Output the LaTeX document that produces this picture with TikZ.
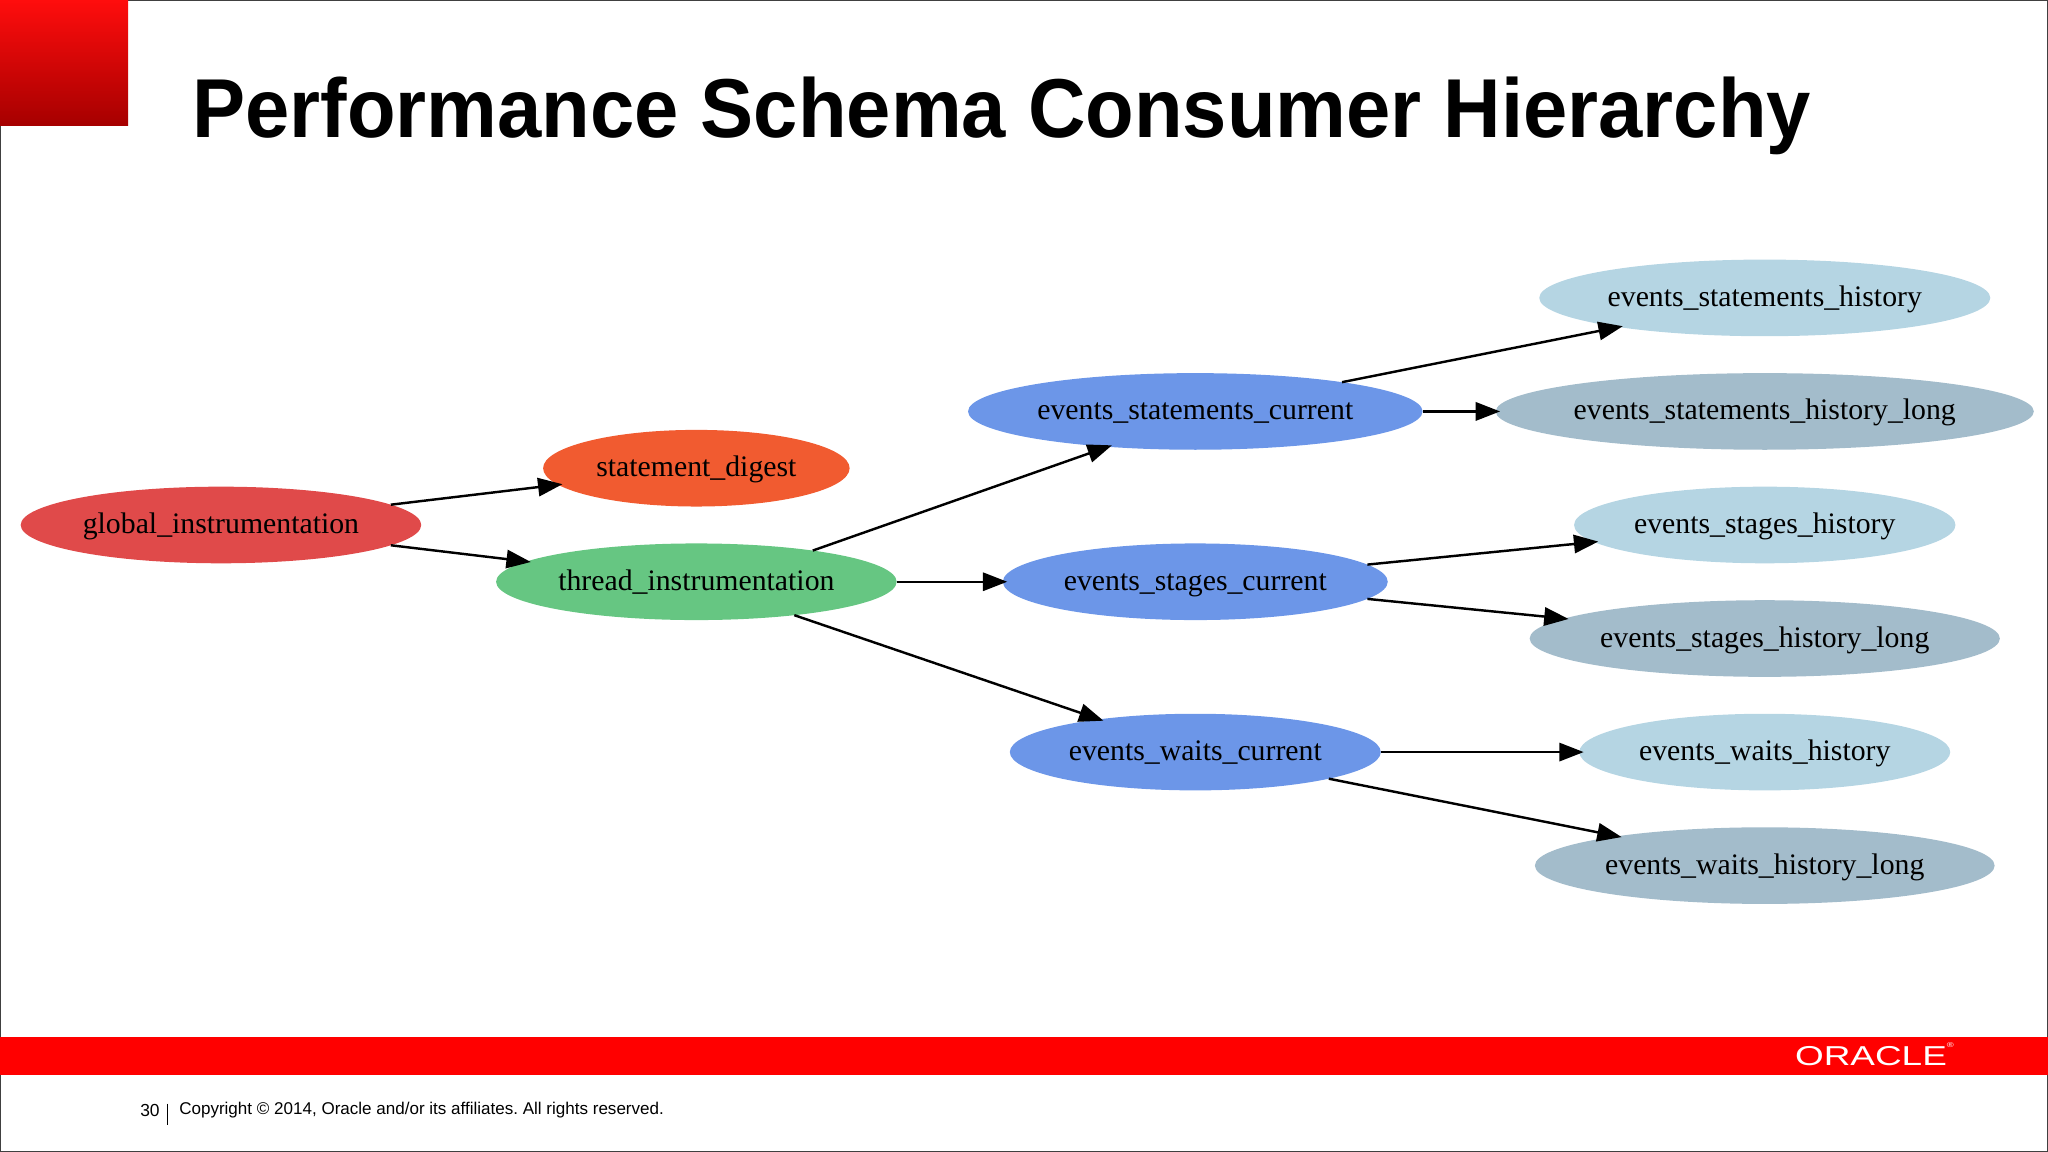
\documentclass[tikz,border=0pt]{standalone}
\usepackage{fontspec}
\setmainfont{Liberation Serif}
\setsansfont{Liberation Sans}
\usetikzlibrary{arrows.meta,shapes.geometric}
\definecolor{oracleRed}{HTML}{FF0000}
\definecolor{globalFill}{HTML}{E04A4A}
\definecolor{digestFill}{HTML}{F15B30}
\definecolor{threadFill}{HTML}{66C682}
\definecolor{currentFill}{HTML}{6C96E8}
\definecolor{historyFill}{HTML}{B5D5E3}
\definecolor{longFill}{HTML}{A3BCCB}
\tikzset{
  consumer/.style={ellipse, anchor=center, inner xsep=-2pt, inner ysep=0pt, outer sep=0pt,
    minimum height=44pt, text height=13.3pt, text depth=3.5pt, font=\fontsize{17.1pt}{20pt}\selectfont},
  flow/.style={->, line width=1.4pt, black, shorten >=-2.5pt},
}
\begin{document}
\begin{tikzpicture}[x=0.75pt, y=-0.75pt, >={Triangle[length=14pt,width=10.5pt]}]
      \useasboundingbox (0,0) rectangle (1568,882);
      \draw[black!75, line width=0.75pt] (0.5,0.5) rectangle (1567.5,881.5);
      \shade[top color=red!95!white, bottom color=red!65!black] (0,0) rectangle (98,96);
      \node[anchor=base west, inner sep=0pt, transform shape, xscale=0.952,
        font=\sffamily\bfseries\fontsize{48pt}{54pt}\selectfont] (title)
        at (147,105.5) {Performance Schema Consumer Hierarchy};
      \matrix (graph) [anchor=center, inner sep=0pt, row sep={32.6pt,between origins}] at (786.5,445.4)
      {
        &[273pt,between origins] &[286.5pt,between origins] &[327pt,between origins]
          \node[consumer, fill=historyFill, minimum width=259pt] (stmthist) {events\_statements\_history}; \\
        \\
        && \node[consumer, fill=currentFill, minimum width=261pt] (stmtcur) {events\_statements\_current}; &
          \node[consumer, fill=longFill, minimum width=309pt] (stmtlong) {events\_statements\_history\_long}; \\
        & \node[consumer, fill=digestFill, minimum width=176pt] (digest) {statement\_digest}; \\
        \node[consumer, fill=globalFill, minimum width=230pt] (global) {global\_instrumentation}; &&&
          \node[consumer, fill=historyFill, minimum width=219pt] (stagehist) {events\_stages\_history}; \\
        & \node[consumer, fill=threadFill, minimum width=230pt] (thread) {thread\_instrumentation}; &
          \node[consumer, fill=currentFill, minimum width=221pt] (stagecur) {events\_stages\_current}; \\
        &&& \node[consumer, fill=longFill, minimum width=270pt] (stagelong) {events\_stages\_history\_long}; \\
        \\
        && \node[consumer, fill=currentFill, minimum width=213pt] (waitcur) {events\_waits\_current}; &
          \node[consumer, fill=historyFill, minimum width=213pt] (waithist) {events\_waits\_history}; \\
        \\
        &&& \node[consumer, fill=longFill, minimum width=264pt] (waitlong) {events\_waits\_history\_long}; \\
      };
      \draw[flow] (global) -- (digest);
      \draw[flow] (global) -- (thread);
      \draw[flow] (thread.15) -- (stmtcur.202);
      \draw[flow] (thread) -- (stagecur);
      \draw[flow] (thread) -- (waitcur);
      \draw[flow] (stmtcur) -- (stmthist);
      \draw[flow] (stmtcur) -- (stmtlong);
      \draw[flow] (stagecur) -- (stagehist);
      \draw[flow] (stagecur) -- (stagelong);
      \draw[flow] (waitcur) -- (waithist);
      \draw[flow] (waitcur) -- (waitlong);
      \fill[oracleRed] (0,794) rectangle (1568,823);
      \node[anchor=base west, inner sep=0pt, text=white, transform shape, xscale=1.35,
        font=\sffamily\fontsize{15.7pt}{18pt}\selectfont] (logo) at (1374,816)
        {ORACLE\raisebox{1.3ex}{\fontsize{4pt}{4pt}\selectfont ®}};
      \node[anchor=base east, inner sep=0pt, font=\sffamily\fontsize{10pt}{12pt}\selectfont] (page) at (122.5,855) {30};
      \node[anchor=base west, inner sep=0pt, font=\sffamily\fontsize{9.78pt}{12pt}\selectfont] (notice) at (137,853.5)
        {\frenchspacing Copyright © 2014, Oracle and/or its affiliates. All rights reserved.};
      \draw[black, line width=0.75pt] (128.5,845) -- (128.5,861);
    \end{tikzpicture}
\end{document}
